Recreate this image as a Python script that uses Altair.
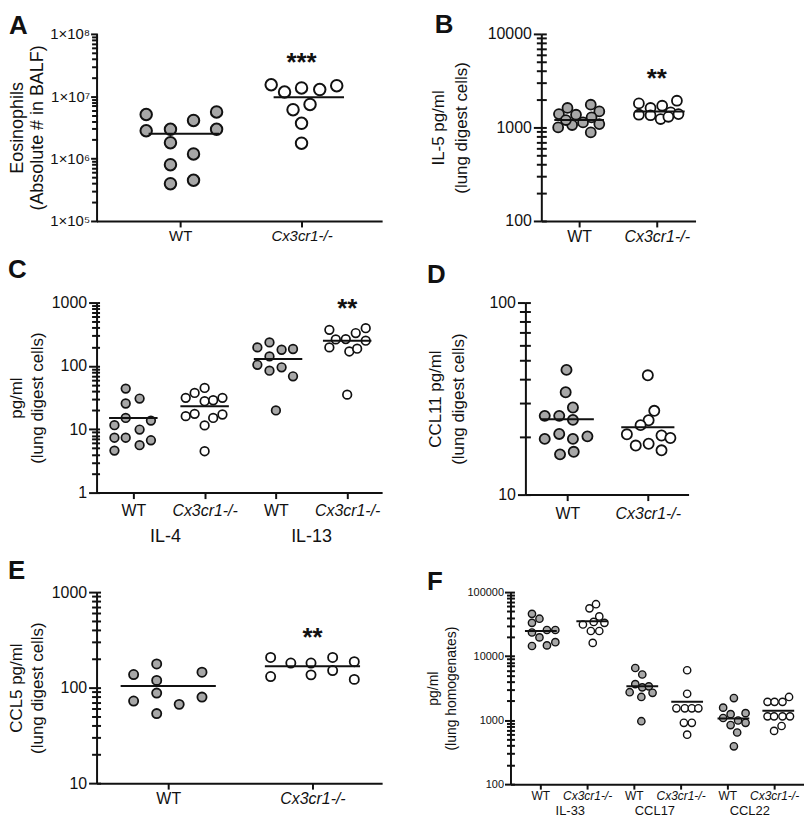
import altair as alt
import pandas as pd

FONT = "Arial, Liberation Sans, sans-serif"
WT_FILL = "#a7a7a7"
KO_FILL = "#ffffff"
INK = "#111111"

# ---------------- data ----------------
GENO_LABELS = ["WT", "Cx3cr1-/-"]

# A: Eosinophils in BALF
A_WT = [5.1e6, 2.8e6, 2.95e6, 1.8e6, 8.0e5, 3.96e5, 4.1e6, 1.19e6, 4.5e5, 5.6e6, 2.95e6]
A_WT_DX = [-0.28, -0.28, -0.08, -0.08, -0.08, -0.08, 0.11, 0.11, 0.11, 0.30, 0.30]
A_KO = [1.53e7, 1.17e7, 1.36e7, 1.28e7, 1.48e7, 6.1e6, 7.4e6, 3.68e6, 1.77e6]
A_KO_DX = [-0.25, -0.14, 0.0, 0.15, 0.29, -0.07, 0.07, 0.0, 0.0]
A_MED = [2.5e6, 9.6e6]
A_MED_DX = [0.03, 0.06]
A_STARS = ["", "***"]
A_STAR_Y = [None, 4.6e7]
A_TICKS = [1e5, 1e6, 1e7, 1e8]
A_TICK_LABELS = ["1×10⁵", "1×10⁶", "1×10⁷", "1×10⁸"]

# B: IL-5
B_WT = [1615, 1390, 1367, 1750, 1483, 1279, 1000, 1061, 1131, 1087, 884, 1200]
B_WT_DX = [-0.15, -0.26, -0.04, 0.15, 0.26, 0.16, -0.27, -0.09, 0.05, 0.26, 0.15, -0.17]
B_KO = [1808, 1930, 1706, 1615, 1367, 1350, 1447, 1390, 1230, 1300]
B_KO_DX = [-0.23, 0.26, 0.07, -0.08, -0.23, -0.08, 0.18, 0.28, 0.05, 0.15]
B_MED = [1200, 1483]
B_MED_DX = [0.0, 0.04]
B_STARS = ["", "**"]
B_STAR_Y = [None, 4000]
B_TICKS = [100, 1000, 10000]
B_TICK_LABELS = ["100", "1000", "10000"]

# C: IL-4 / IL-13
C_IL4_WT = [11.6, 7.35, 4.6, 43.8, 25.5, 15.1, 7.35, 30.5, 9.9, 5.6, 13.7, 6.7]
C_IL4_WT_DX = [-0.265, -0.265, -0.265, -0.107, -0.107, -0.107, -0.107, 0.088, 0.088, 0.088, 0.247, 0.247]
C_IL4_KO = [44.9, 37.4, 31.3, 27.7, 28.7, 31.3, 16.1, 17.5, 15.1, 17.1, 11.5, 4.5]
C_IL4_KO_DX = [0.0, -0.14, -0.265, 0.0, 0.12, 0.25, -0.265, -0.14, 0.12, 0.25, 0.0, 0.0]
C_IL13_WT = [235, 196, 180, 185, 141, 104, 84, 95, 68.5, 19.8]
C_IL13_WT_DX = [-0.09, -0.26, 0.08, 0.24, -0.09, -0.26, -0.09, 0.08, 0.24, 0.0]
C_IL13_KO = [35.2, 371, 394, 330, 265, 262, 250, 196, 169, 187]
C_IL13_KO_DX = [0.0, -0.25, 0.26, 0.12, -0.02, -0.16, 0.26, -0.25, 0.03, 0.14]
C_MED = [15.1, 23.1, 128, 250]
C_MED_DX = [0.0, 0.0, 0.03, 0.0]
C_STARS = ["", "", "", "**"]
C_STAR_Y = [None, None, None, 1037]
C_GROUPS = ["IL-4", "IL-13"]
C_GROUP_X = [0.45, 2.5]
C_TICKS = [1, 10, 100, 1000]
C_TICK_LABELS = ["1", "10", "100", "1000"]

# D: CCL11
D_WT = [44.6, 34.1, 28.4, 25.7, 25.7, 24.5, 19.5, 20.7, 19.5, 20.1, 16.2, 16.7]
D_WT_DX = [-0.01, -0.02, 0.07, -0.28, -0.10, 0.07, -0.28, -0.10, 0.07, 0.25, -0.09, 0.08]
D_KO = [41.8, 27.3, 24.4, 23.0, 20.6, 20.3, 18.0, 18.4, 19.7, 17.0]
D_KO_DX = [0.0, 0.08, 0.01, -0.09, -0.26, 0.17, -0.15, 0.01, 0.28, 0.17]
D_MED = [24.7, 22.4]
D_MED_DX = [0.0, 0.0]
D_TICKS = [10, 100]
D_TICK_LABELS = ["10", "100"]

# E: CCL5
E_WT = [137, 72.4, 177, 119, 87.7, 53.5, 66.8, 145, 79.6]
E_WT_DX = [-0.24, -0.24, -0.08, -0.08, -0.08, -0.08, 0.076, 0.234, 0.234]
E_KO = [207, 130.6, 181, 181, 136, 207, 151, 187, 122]
E_KO_DX = [-0.29, -0.29, -0.15, -0.01, -0.01, 0.14, 0.14, 0.29, 0.29]
E_MED = [103.7, 167.5]
E_MED_DX = [0.0, 0.0]
E_STARS = ["", "**"]
E_STAR_Y = [None, 403]
E_TICKS = [10, 100, 1000]
E_TICK_LABELS = ["10", "100", "1000"]

# F: IL-33 / CCL17 / CCL22 (lung homogenates)
F_IL33_WT = [45700, 38400, 33100, 23400, 19600, 25600, 25600, 14400, 14700, 16500]
F_IL33_WT_DX = [-0.18, -0.02, -0.18, -0.18, -0.02, 0.14, 0.32, -0.18, 0.14, 0.32]
F_IL33_KO = [64700, 55700, 41700, 31200, 34200, 33100, 24700, 24700, 16100]
F_IL33_KO_DX = [0.19, 0.05, 0.26, -0.09, 0.14, 0.37, 0.08, 0.26, 0.12]
F_CCL17_WT = [6520, 5160, 3650, 3250, 3370, 2730, 2670, 2300, 962]
F_CCL17_WT_DX = [0.03, 0.18, 0.03, 0.18, 0.32, -0.09, 0.40, 0.16, 0.16]
F_CCL17_KO = [6010, 2580, 1530, 1530, 1530, 1530, 908, 908, 592]
F_CCL17_KO_DX = [0.14, 0.14, -0.09, 0.09, 0.24, 0.38, 0.07, 0.24, 0.14]
F_CCL22_WT = [2210, 1567, 1240, 1285, 1080, 986, 908, 837, 641, 390]
F_CCL22_WT_DX = [0.14, -0.09, 0.07, 0.39, -0.09, 0.23, 0.39, 0.07, 0.21, 0.14]
F_CCL22_KO = [2300, 1930, 1930, 1930, 1145, 1145, 1145, 1145, 809, 679]
F_CCL22_KO_DX = [0.32, -0.14, 0.01, 0.18, -0.14, 0.0, 0.18, 0.34, 0.16, 0.0]
F_MED = [24700, 35000, 3370, 1930, 1057, 1397]
F_MED_DX = [0.01, 0.11, 0.18, 0.14, 0.13, 0.09]
F_GROUPS = ["IL-33", "CCL17", "CCL22"]
F_GROUP_X = [0.64, 2.45, 4.48]
F_TICKS = [100, 1000, 10000, 100000]
F_TICK_LABELS = ["100", "1000", "10000", "100000"]


# ---------------- helpers ----------------
def minor_values(lo, hi):
    vals = []
    d = lo
    while d < hi / 1.5:
        vals += [d * k for k in range(2, 10)]
        d *= 10
    return vals


def ternary(values, labels):
    expr = ""
    for v, lab in zip(values, labels):
        expr += f"datum.value == {v} ? '{lab}' : "
    return expr + "''"


def panel(letter, cats, ko, values, dxs, meds, med_dx, half, xdom,
          ydom, majors, major_labels, ytitle, w, h, size, sw,
          ylab_fs, xlab_fs, title_fs, title_lh, title_x,
          major_tick, minor_tick, inner_tick, ylab_pad, xtick, xlab_pad,
          letter_offset, letter_dx=0, stars=None, star_y=None, star_fs=26,
          groups=None, group_x=None, group_fs=18, group_off=38):
    pts = []
    for gi, (vals, dx) in enumerate(zip(values, dxs)):
        for v, d in zip(vals, dx):
            pts.append({"x": gi + d, "y": v, "geno": "KO" if ko[gi] else "WT"})
    df_pts = pd.DataFrame(pts)
    df_med = pd.DataFrame({
        "x0": [i + m - half for i, m in enumerate(med_dx)],
        "x1": [i + m + half for i, m in enumerate(med_dx)],
        "y": meds,
    })

    minors = minor_values(ydom[0], ydom[1])
    major_test = "indexof([" + ",".join(repr(float(v)) for v in majors) + "], datum.value) >= 0"
    ko_idx = [i for i, k in enumerate(ko) if k]
    ko_test = "indexof([" + ",".join(str(i) for i in ko_idx) + "], datum.value) >= 0"

    xscale = alt.Scale(domain=list(xdom), nice=False, zero=False)
    yscale = alt.Scale(type="log", domain=list(ydom), nice=False)

    yaxis = alt.Axis(
        values=majors + minors,
        labelExpr=ternary(majors, major_labels),
        labelOverlap=False, labelFontSize=ylab_fs, labelPadding=ylab_pad,
        tickSize={"condition": {"test": major_test, "value": major_tick}, "value": minor_tick},
        tickWidth=2, domainWidth=2, grid=False,
        title=ytitle, titleFontSize=title_fs, titleLineHeight=title_lh,
        titleX=title_x, titleY=h / 2, titleAngle=270, titleAlign="center",
        titleBaseline="bottom", titleFontWeight="normal",
    )

    def xaxis():
        return alt.Axis(
            values=list(range(len(cats))),
            labelExpr=ternary(list(range(len(cats))), cats),
            labelFontStyle={"condition": {"test": ko_test, "value": "italic"}, "value": "normal"},
            labelFontSize=xlab_fs, labelPadding=xlab_pad, tickSize=xtick, tickWidth=2,
            domainWidth=2, grid=False, title=None, labelFlush=False, labelOverlap=False,
        )

    points = alt.Chart(df_pts).mark_point(
        shape="circle", filled=True, size=size, stroke=INK, strokeWidth=sw, opacity=1
    ).encode(
        x=alt.X("x:Q", scale=xscale, axis=xaxis()),
        y=alt.Y("y:Q", scale=yscale, axis=yaxis),
        fill=alt.Fill("geno:N", scale=alt.Scale(domain=["WT", "KO"], range=[WT_FILL, KO_FILL]), legend=None),
    )

    inner_axis = alt.Axis(
        orient="right", offset=-w, values=majors + minors, labels=False,
        domain=False, tickSize=inner_tick, tickWidth=2, grid=False, title=None,
    )
    rules = alt.Chart(df_med).mark_rule(color=INK, strokeWidth=2).encode(
        x=alt.X("x0:Q", scale=xscale, axis=xaxis()),
        x2="x1:Q",
        y=alt.Y("y:Q", scale=yscale, axis=inner_axis),
    )
    layers = [points, rules]

    if stars:
        df_st = pd.DataFrame([{"x": i, "y": yv, "t": t}
                              for i, (t, yv) in enumerate(zip(stars, star_y)) if t])
        layers.append(alt.Chart(df_st).mark_text(
            font=FONT, fontSize=star_fs, fontWeight="bold", baseline="middle", dy=8, color=INK
        ).encode(
            x=alt.X("x:Q", scale=xscale, axis=xaxis()),
            y=alt.Y("y:Q", scale=yscale, axis=None),
            text="t:N",
        ))
    if groups:
        df_g = pd.DataFrame({"x": group_x, "t": groups})
        layers.append(alt.Chart(df_g).mark_text(
            font=FONT, fontSize=group_fs, baseline="middle", color=INK
        ).encode(
            x=alt.X("x:Q", scale=xscale, axis=xaxis()),
            y=alt.value(h + group_off),
            text="t:N",
        ))

    ch = alt.layer(*layers).properties(
        width=w, height=h,
        title=alt.TitleParams(text=letter, anchor="start", frame="bounds", fontSize=26,
                              fontWeight="bold", font=FONT, color=INK,
                              offset=letter_offset, dx=letter_dx),
    ).resolve_axis(y="independent")
    return ch


WTKO = [False, True]

pA = panel("A", GENO_LABELS, WTKO, [A_WT, A_KO], [A_WT_DX, A_KO_DX], A_MED, A_MED_DX, 0.29,
           (-0.689, 1.664), (1e5, 1e8), A_TICKS, A_TICK_LABELS,
           ["Eosinophils", "(Absolute # in BALF)"], 287, 188, 133, 2.0,
           15, 15, 18, 20, -70, 6, 5, 1, 1, 6, 2, -12,
           stars=A_STARS, star_y=A_STAR_Y)

pB = panel("B", GENO_LABELS, WTKO, [B_WT, B_KO], [B_WT_DX, B_KO_DX], B_MED, B_MED_DX, 0.32,
           (-0.487, 1.5), (100, 10000), B_TICKS, B_TICK_LABELS,
           ["IL-5 pg/ml", "(lung digest cells)"], 155, 188, 100, 1.8,
           16, 16, 17, 23, -94, 8, 5, 5, 2, 6, 2, -12, letter_dx=5,
           stars=B_STARS, star_y=B_STAR_Y)

pC = panel("C", ["WT", "Cx3cr1-/-", "WT", "Cx3cr1-/-"], [False, True, False, True],
           [C_IL4_WT, C_IL4_KO, C_IL13_WT, C_IL13_KO],
           [C_IL4_WT_DX, C_IL4_KO_DX, C_IL13_WT_DX, C_IL13_KO_DX], C_MED, C_MED_DX, 0.34,
           (-0.516, 3.49), (1, 1000), C_TICKS, C_TICK_LABELS,
           ["pg/ml", "(lung digest cells)"], 287, 191, 75, 1.7,
           16, 16, 17, 21, -71, 8, 5, 3, 2, 6, 4, 12,
           stars=C_STARS, star_y=C_STAR_Y, groups=C_GROUPS, group_x=C_GROUP_X,
           group_fs=18, group_off=45)

pD = panel("D", GENO_LABELS, WTKO, [D_WT, D_KO], [D_WT_DX, D_KO_DX], D_MED, D_MED_DX, 0.33,
           (-0.52, 1.506), (10, 100), D_TICKS, D_TICK_LABELS,
           ["CCL11 pg/ml", "(lung digest cells)"], 164, 193, 104, 1.8,
           16, 16, 17, 23, -81, 8, 6, 5, 2, 6, 5, 7)

pE = panel("E", GENO_LABELS, WTKO, [E_WT, E_KO], [E_WT_DX, E_KO_DX], E_MED, E_MED_DX, 0.33,
           (-0.497, 1.483), (10, 1000), E_TICKS, E_TICK_LABELS,
           ["CCL5 pg/ml", "(lung digest cells)"], 287, 192, 85, 1.8,
           16, 16, 17, 21, -71, 8, 5, 4, 2, 6, 1, 0,
           stars=E_STARS, star_y=E_STAR_Y)

pF = panel("F", ["WT", "Cx3cr1-/-"] * 3, [False, True] * 3,
           [F_IL33_WT, F_IL33_KO, F_CCL17_WT, F_CCL17_KO, F_CCL22_WT, F_CCL22_KO],
           [F_IL33_WT_DX, F_IL33_KO_DX, F_CCL17_WT_DX, F_CCL17_KO_DX, F_CCL22_WT_DX, F_CCL22_KO_DX],
           F_MED, F_MED_DX, 0.34,
           (-0.64, 5.64), (100, 100000), F_TICKS, F_TICK_LABELS,
           ["pg/ml", "(lung homogenates)"], 295, 193, 54, 1.4,
           11, 12, 14, 18, -70, 6, 4, 4, 1, 5, 1, -8.5,
           groups=F_GROUPS, group_x=F_GROUP_X, group_fs=13, group_off=27)

row1 = alt.hconcat(pA, pB, spacing=48)
row2 = alt.hconcat(pC, pD, spacing=45)
row3 = alt.hconcat(pE, pF, spacing=45)

chart = alt.vconcat(row1, row2, row3, spacing=12).properties(
    padding={"left": 0, "top": 2, "right": 0, "bottom": 0},
    background="white",
).configure_view(stroke=None).configure_axis(
    labelFont=FONT, titleFont=FONT, labelColor=INK, titleColor=INK,
    domainColor=INK, tickColor=INK,
)

chart.save("out.html", embed_options={"renderer": "svg", "actions": False})
